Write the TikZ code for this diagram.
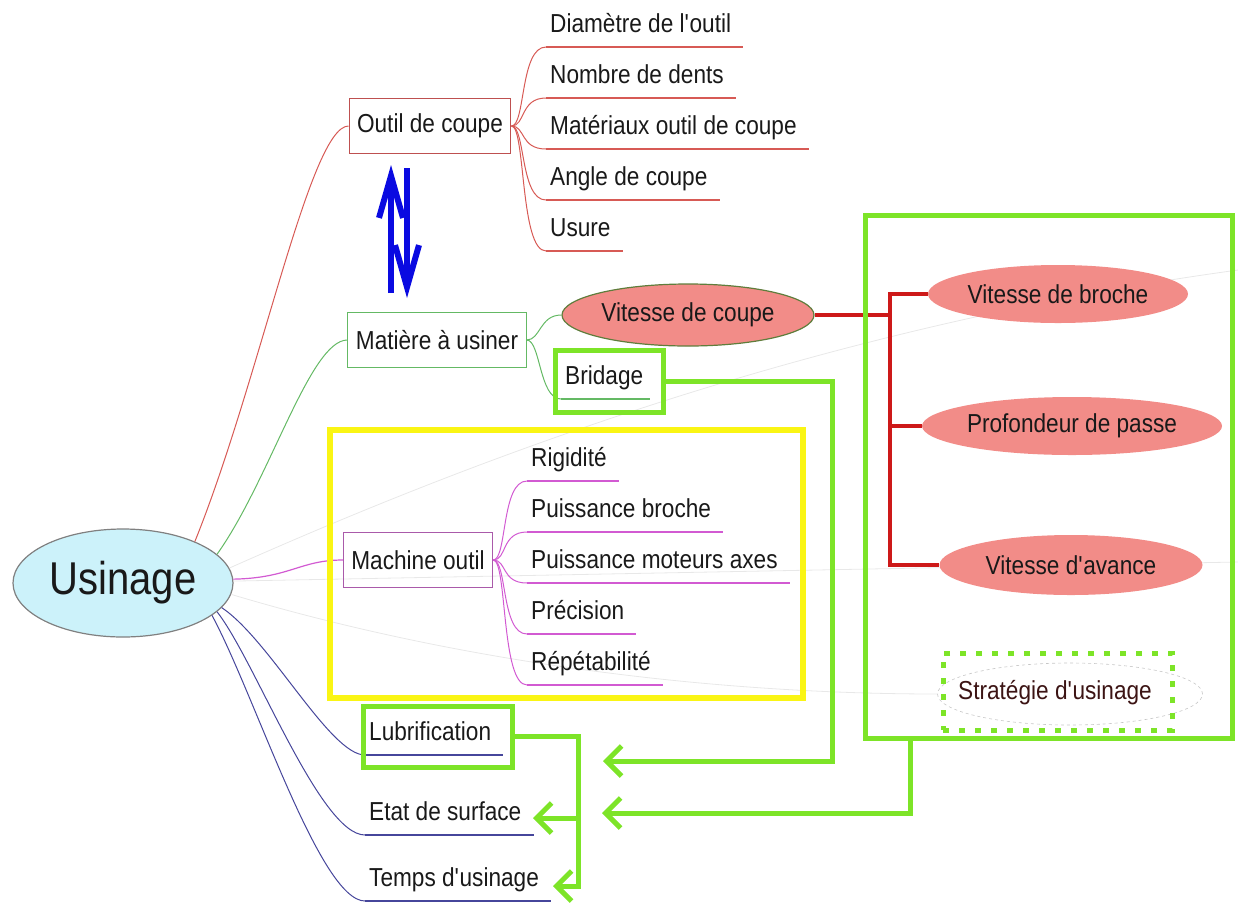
\documentclass[tikz,border=0pt]{standalone}
\usepackage{fontspec}
\setmainfont{Liberation Sans}[FakeStretch=0.87]
\usetikzlibrary{arrows.meta}
\usetikzlibrary{shapes.geometric}

\definecolor{cRed}{RGB}{215,90,85}
\definecolor{cRedBox}{RGB}{190,80,80}
\definecolor{cGreenThin}{RGB}{100,185,100}
\definecolor{cMag}{RGB}{210,90,210}
\definecolor{cMagBox}{RGB}{170,90,170}
\definecolor{cNavy}{RGB}{70,70,155}
\definecolor{cLime}{RGB}{125,228,40}
\definecolor{cYellow}{RGB}{250,245,20}
\definecolor{cSalmon}{RGB}{242,140,136}
\definecolor{cOlive}{RGB}{95,125,60}
\definecolor{cCyan}{RGB}{204,242,250}
\definecolor{cBlue}{RGB}{10,10,225}
\definecolor{cTree}{RGB}{205,25,25}
\definecolor{cMaroon}{RGB}{60,20,20}
\definecolor{cText}{RGB}{25,25,25}
\newcommand{\apos}{\textquotesingle}

\begin{document}
\begin{tikzpicture}[
x=1pt, y=-1pt,
font=\fontsize{26}{30}\selectfont,
text=cText,
mybox/.style={
  draw,
  rectangle,
  line width=1.1pt,
  minimum height=55pt,
  inner xsep=8pt},
myleaf/.style={
  anchor=south west,
  inner xsep=4pt,
  inner ysep=14pt,
  text depth=0pt},
myoval/.style={
  ellipse,
  fill=cSalmon,
  inner sep=0pt},
myframe/.style={
  draw=cLime,
  line width=5pt,
  rectangle,
  inner sep=0pt},
myarrow/.style={
  draw=cLime,
  line width=5pt,
  -{Straight Barb[length=15pt,width=30pt]}},
myup/.style={
  draw=cBlue,
  line width=6pt,
  -{Straight Barb[length=42pt,width=24pt]}},
faint/.style={
  draw=black!9,
  line width=0.8pt}
]
\useasboundingbox (0,0) rectangle (1238,903);

\node[ellipse, draw=gray, line width=1.2pt, fill=cCyan,
  minimum width=220pt, minimum height=108pt, inner sep=0pt,
  font=\fontsize{46}{52}\selectfont] (U) at (123,583) {Usinage};

% faint relationship lines
\draw[faint] (U.8) .. controls (450,470) and (800,330) .. (1238,270);
\draw[faint] (U.1) -- (1238,562);
\draw[faint] (U.-6) .. controls (450,660) and (700,694) .. (938,694);

% first level
\node[mybox, draw=cRedBox] (OC) at (430,126) {Outil de coupe};
\node[mybox, draw=cGreenThin] (MU) at (437,340) {Matière à usiner};
\node[mybox, draw=cMagBox] (MO) at (418,560) {Machine outil};

\draw[cRed, line width=1pt] (U.30) .. controls (260,380) and (310,126) .. (OC.west);
\draw[cGreenThin, line width=1pt] (U.17) .. controls (270,480) and (310,340) .. (MU.west);
\draw[cMag, line width=1.2pt] (U.2) .. controls (290,578) and (300,560) .. (MO.west);

% outil de coupe
\foreach \Txt [count=\i] in {Diamètre de l\apos{}outil, Nombre de dents,
  Matériaux outil de coupe, Angle de coupe, Usure}
{
  \node[myleaf] (O\i) at (546,{47+51*(\i-1)}) {\Txt};
  \draw[cRed, line width=1pt] (OC.east) .. controls +(14,0) and +(-26,0) .. (O\i.south west);
  \draw[cRed, line width=1.2pt] (O\i.south west) -- ([xshift=8pt]O\i.south east);
}

% machine outil
\foreach \Txt [count=\i] in {Rigidité, Puissance broche,
  Puissance moteurs axes, Précision, Répétabilité}
{
  \node[myleaf] (M\i) at (527,{481+51*(\i-1)}) {\Txt};
  \draw[cMag, line width=1pt] (MO.east) .. controls +(14,0) and +(-26,0) .. (M\i.south west);
  \draw[cMag, line width=1.4pt] (M\i.south west) -- ([xshift=8pt]M\i.south east);
}

% matiere a usiner
\node[myoval, draw=cOlive, line width=1.2pt, minimum width=252pt, minimum height=62pt] (VC) at (688,315) {Vitesse de coupe};
\node[myleaf] (BR) at (561,399) {Bridage};
\draw[cGreenThin, line width=1pt] (MU.east) .. controls +(14,0) and +(-22,0) .. (VC.west);
\draw[cGreenThin, line width=1pt] (MU.east) .. controls +(14,0) and +(-22,0) .. (BR.south west);
\draw[cGreenThin, line width=1.2pt] (BR.south west) -- ([xshift=3pt]BR.south east);

% bottom leaves
\foreach \Txt/\Y [count=\i] in {Lubrification/755, Etat de surface/835, Temps d\apos{}usinage/901}
{
  \node[myleaf] (L\i) at (365,\Y) {\Txt};
  \draw[cNavy, line width=1.4pt] (L\i.south west) -- ([xshift=8pt]L\i.south east);
}
\draw[cNavy, line width=1pt] (U.-14) .. controls (270,640) and (330,755) .. (L1.south west);
\draw[cNavy, line width=1pt] (U.-17) .. controls (255,660) and (320,835) .. (L2.south west);
\draw[cNavy, line width=1pt] (U.-20) .. controls (255,695) and (320,901) .. (L3.south west);

% parametres de coupe
\node[myoval, minimum width=260pt, minimum height=58pt] (VB) at (1058,294) {Vitesse de broche};
\node[myoval, minimum width=300pt, minimum height=58pt] (PP) at (1072,426) {Profondeur de passe};
\node[myoval, minimum width=263pt, minimum height=60pt] (VA) at (1071,565) {Vitesse d\apos{}avance};
\coordinate (RJ) at (890,315);
\draw[cTree, line width=4pt] (VC.east) -- (RJ);
\draw[cTree, line width=4pt, line cap=rect] (VB.west -| RJ) -- (VA.west -| RJ);
\foreach \Nodo in {VB,PP,VA}
  \draw[cTree, line width=4pt] (\Nodo.west -| RJ) -- (\Nodo.west);

\node[ellipse, draw=gray!45, dashed, line width=0.6pt,
  minimum width=265pt, minimum height=62pt] (SE) at (1070,694) {};
\node[text=cMaroon] (SU) at (1055,693) {Stratégie d\apos{}usinage};

% frames
\node[myframe, minimum width=108pt, minimum height=62pt] (BRF) at (609,381) {};
\node[myframe, draw=cYellow, line width=6pt, minimum width=473pt, minimum height=268pt] (YF) at (566.5,564) {};
\node[myframe, minimum width=149pt, minimum height=61pt] (LF) at (437.5,736.5) {};
\node[myframe, minimum width=367pt, minimum height=523pt] (BF) at (1048.5,476.5) {};
\node[myframe, dash pattern=on 6pt off 10pt, minimum width=229pt, minimum height=77pt] (SF) at (1057.5,691.5) {};

% green arrows
\coordinate (T1) at (603,761);
\coordinate (T2) at (602,813);
\coordinate (T3) at (533,818);
\coordinate (T4) at (553,886);
\coordinate (G1) at (832,761);
\coordinate (G2) at (578,886);
\draw[myarrow] (BRF.east) -| (G1) -- (T1);
\draw[myarrow] ([xshift=48pt]BF.south west) |- (T2);
\draw[myarrow] (LF.east) -| (G2) -- (T4);
\draw[myarrow] (G2 |- T3) -- (T3);

% blue arrows
\coordinate (B1) at (391,293);
\coordinate (B2) at (391,165);
\coordinate (B3) at (407,168);
\coordinate (B4) at (407,298);
\draw[myup] (B1) -- (B2);
\draw[myup] (B3) -- (B4);
\end{tikzpicture}
\end{document}
